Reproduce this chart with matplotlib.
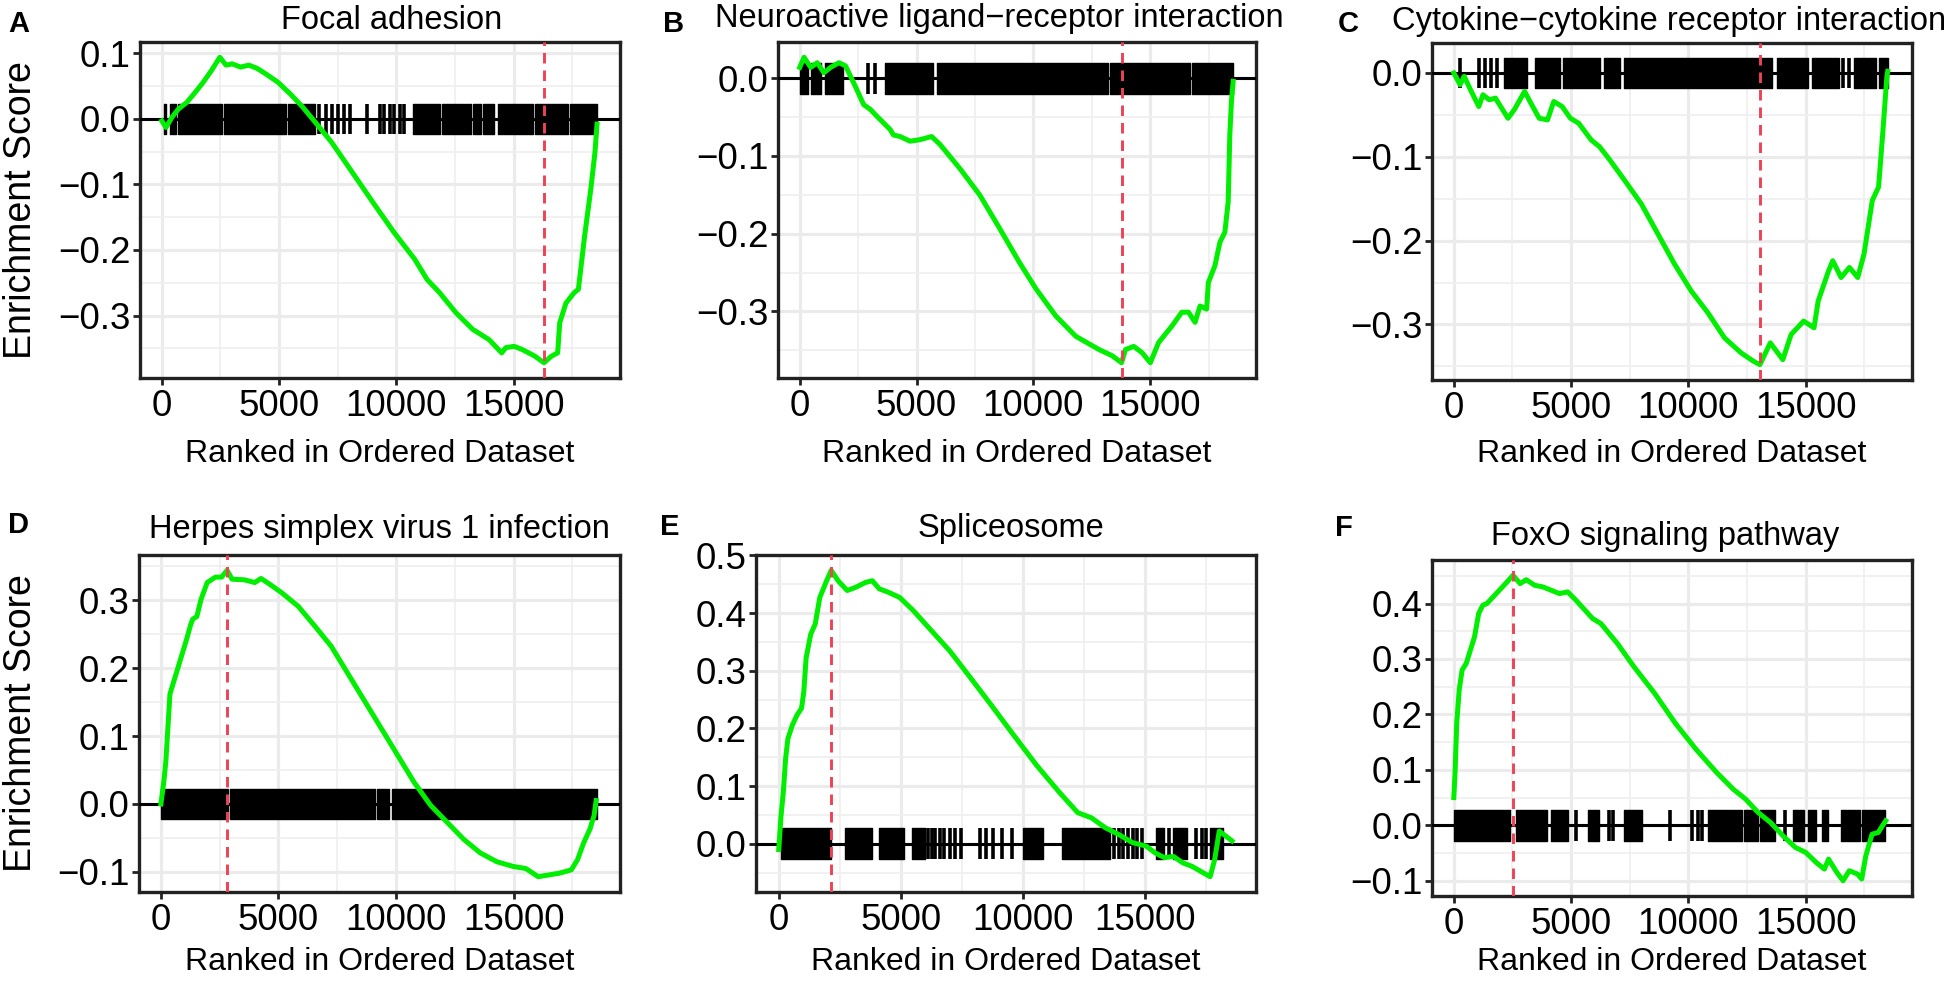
import matplotlib
matplotlib.use("Agg")
import matplotlib.pyplot as plt
from matplotlib.ticker import FixedLocator, FuncFormatter
import numpy as np

# ---------------- data ----------------
titles = ["Focal adhesion", "Neuroactive ligand\u2212receptor interaction",
          "Cytokine\u2212cytokine receptor interaction",
          "Herpes simplex virus 1 infection", "Spliceosome", "FoxO signaling pathway"]
letters = ["A", "B", "C", "D", "E", "F"]

A_rank = [0, 177, 442, 707, 1060, 1413, 1767, 2120, 2473, 2739, 3000, 3357, 3710, 4064, 4417, 4947, 5477,
          6007, 6537, 7244, 8127, 9011, 9894, 10777, 11307, 11837, 12544, 13250, 13957, 14488, 14664, 15017,
          15371, 15901, 16290, 16608, 16873, 16961, 17226, 17580, 17756, 18021, 18286, 18463, 18551]
A_es = [-0.003, -0.013, 0.003, 0.015, 0.025, 0.040, 0.056, 0.074, 0.094, 0.082, 0.084, 0.079, 0.082, 0.077,
        0.069, 0.056, 0.038, 0.018, -0.005, -0.036, -0.082, -0.128, -0.173, -0.214, -0.245, -0.265, -0.296,
        -0.321, -0.337, -0.357, -0.349, -0.347, -0.352, -0.362, -0.372, -0.362, -0.357, -0.311, -0.281,
        -0.265, -0.260, -0.179, -0.107, -0.051, -0.008]
A_peak = 16290
A_blocks = [(90, 180), (350, 620), (710, 2560), (2650, 5300), (5390, 6540), (10690, 11840), (11930, 13160),
            (13250, 13600), (13690, 14140), (14310, 15810), (15900, 17320), (17400, 18560)]
A_lines = [6720, 6980, 7250, 7510, 7780, 8040, 8750, 9280, 9450, 9720, 9900, 10160, 10340]

B_rank = [0, 185, 470, 750, 1035, 1320, 1675, 1957, 2312, 2737, 3021, 3305, 3872, 4014, 4298, 4723, 5149,
          5645, 6000, 6851, 7702, 8553, 9404, 10114, 10965, 11816, 12808, 13375, 13774, 13944, 14297, 14650,
          15007, 15361, 15928, 16354, 16638, 16922, 17135, 17418, 17489, 17773, 17986, 18198, 18340, 18410,
          18480, 18553]
B_es = [0.014, 0.027, 0.014, 0.020, 0.007, 0.014, 0.020, 0.016, -0.006, -0.034, -0.040, -0.049, -0.066,
        -0.073, -0.075, -0.081, -0.079, -0.075, -0.085, -0.116, -0.150, -0.193, -0.237, -0.271, -0.306,
        -0.332, -0.349, -0.357, -0.366, -0.349, -0.345, -0.353, -0.366, -0.340, -0.319, -0.301, -0.301,
        -0.314, -0.293, -0.297, -0.263, -0.241, -0.211, -0.198, -0.159, -0.072, -0.029, -0.004]
B_peak = 13774
B_blocks = [(0, 340), (470, 900), (1100, 1870), (3660, 5700), (5860, 13190), (13300, 16710), (16810, 18550)]
B_lines = [2940, 3230]

C_rank = [0, 266, 444, 710, 1065, 1243, 1509, 1775, 2307, 2574, 3017, 3284, 3639, 3994, 4260, 4615, 4970,
          5325, 5858, 6213, 6656, 7278, 7988, 8698, 9408, 10118, 10828, 11538, 12248, 12780, 13046, 13490,
          14023, 14378, 14910, 15354, 15532, 15975, 16152, 16508, 16862, 17217, 17484, 17839, 18105, 18283,
          18460, 18496]
C_es = [0.0, -0.014, -0.004, -0.020, -0.040, -0.026, -0.032, -0.030, -0.054, -0.044, -0.022, -0.036, -0.054,
        -0.056, -0.034, -0.040, -0.054, -0.060, -0.080, -0.088, -0.104, -0.128, -0.156, -0.192, -0.228,
        -0.260, -0.286, -0.316, -0.334, -0.344, -0.348, -0.322, -0.342, -0.312, -0.296, -0.304, -0.272,
        -0.236, -0.224, -0.244, -0.232, -0.244, -0.216, -0.152, -0.136, -0.072, -0.004, 0.002]
C_peak = 13046
C_blocks = [(2130, 3100), (3460, 4520), (4650, 6210), (6420, 7100), (7240, 13580), (13760, 15090),
            (15260, 16420), (17040, 18010), (18140, 18500)]
C_lines = [266, 1065, 1330, 1600, 1860, 16600, 16860]

D_rank = [0, 123, 211, 299, 387, 563, 739, 915, 1091, 1267, 1355, 1531, 1707, 1971, 2323, 2587, 2816, 3027,
          3555, 3995, 4259, 4611, 5139, 5843, 6547, 7251, 8131, 9011, 9891, 10771, 11475, 12179, 12883,
          13587, 14291, 14995, 15523, 16051, 16403, 16931, 17459, 17723, 17987, 18251, 18427, 18515]
D_es = [0.0, 0.032, 0.062, 0.112, 0.162, 0.182, 0.202, 0.222, 0.242, 0.264, 0.272, 0.276, 0.301, 0.326,
        0.334, 0.334, 0.344, 0.331, 0.330, 0.326, 0.332, 0.324, 0.311, 0.291, 0.262, 0.232, 0.182, 0.132,
        0.082, 0.032, -0.002, -0.027, -0.052, -0.072, -0.085, -0.092, -0.095, -0.107, -0.105, -0.102,
        -0.097, -0.082, -0.057, -0.037, -0.017, 0.005]
D_peak = 2816
D_blocks = [(0, 2850), (2950, 9100), (9200, 9720), (9840, 18550)]
D_lines = []

E_rank = [0, 93, 187, 280, 374, 560, 747, 934, 1027, 1121, 1308, 1494, 1681, 1961, 2148, 2428, 2802, 3176,
          3549, 3829, 4110, 4483, 4950, 5511, 6258, 7005, 7752, 8686, 9620, 10554, 11488, 12235, 12796,
          13356, 13917, 14477, 15037, 15411, 15784, 16158, 16532, 16905, 17279, 17653, 17840, 18026, 18306,
          18549]
E_es = [-0.010, 0.048, 0.089, 0.147, 0.182, 0.206, 0.223, 0.235, 0.264, 0.322, 0.363, 0.381, 0.427, 0.456,
        0.474, 0.456, 0.439, 0.445, 0.453, 0.456, 0.442, 0.436, 0.427, 0.404, 0.369, 0.334, 0.293, 0.241,
        0.188, 0.136, 0.089, 0.054, 0.045, 0.028, 0.016, 0.002, -0.004, -0.016, -0.024, -0.022, -0.033,
        -0.039, -0.048, -0.057, -0.027, 0.022, 0.013, 0.005]
E_peak = 2148
E_blocks = [(93, 2148), (2709, 3829), (4110, 5137), (5473, 5977), (9994, 10834), (11582, 13543),
            (15448, 15747), (16121, 16719), (17653, 18176)]
E_lines = [6108, 6258, 6407, 6594, 6781, 7005, 7229, 7472, 8219, 8499, 8780, 9153, 9527, 13730, 13917,
           14103, 14290, 14477, 14664, 14851, 15971, 17092, 17316, 17503]

F_rank = [0, 53, 124, 229, 353, 530, 706, 883, 1059, 1236, 1412, 1677, 1942, 2206, 2524, 2824, 3089, 3442,
          3795, 4148, 4501, 4854, 5207, 5913, 6266, 6972, 7678, 8560, 9443, 10325, 11208, 11914, 12443,
          12973, 13502, 14032, 14561, 15003, 15444, 15797, 15973, 16326, 16591, 16856, 17209, 17385, 17562,
          17827, 18091, 18268, 18409]
F_es = [0.050, 0.095, 0.184, 0.244, 0.280, 0.292, 0.316, 0.340, 0.382, 0.397, 0.400, 0.412, 0.424, 0.436,
        0.451, 0.436, 0.443, 0.433, 0.430, 0.424, 0.418, 0.421, 0.406, 0.373, 0.364, 0.328, 0.286, 0.238,
        0.184, 0.137, 0.095, 0.065, 0.047, 0.023, 0.005, -0.019, -0.040, -0.049, -0.067, -0.079, -0.061,
        -0.085, -0.100, -0.082, -0.088, -0.097, -0.055, -0.016, -0.013, -0.001, 0.008]
F_peak = 2524
F_blocks = [(0, 2380), (2650, 3970), (4150, 4850), (5740, 6180), (7240, 8030), (10820, 12270),
            (12360, 12970), (13060, 13680), (14470, 14910), (15090, 15440), (15710, 15970), (16520, 17300),
            (17390, 18360)]
F_lines = [5210, 6620, 6800, 9230, 10150, 10410, 10590, 14120]

x_ticks = [0, 5000, 10000, 15000]
x_minor = [2500, 7500, 12500, 17500]

panels = [
    (A_rank, A_es, A_peak, A_blocks, A_lines),
    (B_rank, B_es, B_peak, B_blocks, B_lines),
    (C_rank, C_es, C_peak, C_blocks, C_lines),
    (D_rank, D_es, D_peak, D_blocks, D_lines),
    (E_rank, E_es, E_peak, E_blocks, E_lines),
    (F_rank, F_es, F_peak, F_blocks, F_lines),
]

# ---------------- layout (pixels) ----------------
W, H = 1955, 986
boxes = [(140, 42, 620, 378), (778, 42, 1256, 378), (1432, 43, 1912, 380),
         (139, 555, 620, 892), (756, 555, 1256, 892), (1432, 560, 1912, 896)]
title_cx = [392, 999, 1669, 379, 1011, 1665]
title_base = [29, 27, 30, 538, 537, 545]
letter_pos = [(8, 32), (663, 32), (1338, 32), (8, 533), (660, 535), (1335, 536)]
xlabel_y = [454, 454, 454, 962, 962, 962]

plt.rcParams['font.family'] = ['Liberation Sans', 'DejaVu Sans']

fig = plt.figure(figsize=(W / 100, H / 100), dpi=100)
fig.patch.set_facecolor('white')

def fx(x):
    return x / W

def fy(y):
    return 1 - y / H

def fmt_y(v, pos):
    s = "%.1f" % v
    if s == "-0.0":
        s = "0.0"
    return s.replace("-", "\u2212")

border = '#222222'
for i, (rank, es, peak, blocks, lines) in enumerate(panels):
    l, t, r, b = boxes[i]
    ax = fig.add_axes([fx(l), fy(b), (r - l) / W, (b - t) / H])
    es_arr = np.array(es)
    h = (es_arr.max() - es_arr.min()) / 20.0

    ax.broken_barh([(s, e - s) for s, e in blocks], (-h, 2 * h), facecolors='black',
                   edgecolor='black', linewidth=1.0, zorder=2)
    if lines:
        ax.vlines(lines, -h, h, colors='black', linewidth=2.6, zorder=2)
    ax.axhline(0, color='black', linewidth=2.2, zorder=3)
    ax.plot(rank, es, color='#00EE00', linewidth=3.6, zorder=4, solid_joinstyle='round')
    ax.axvline(peak, color='#EE4256', linewidth=2.1, linestyle=(0, (3.6, 2.4)), zorder=5)

    ax.margins(x=0.05, y=0.05)
    ax.set_xlim(-930, 19530)

    ylo, yhi = ax.get_ylim()
    step = 0.1
    ks = range(int(np.floor(ylo / step)) - 1, int(np.ceil(yhi / step)) + 2)
    yt = [round(k * step, 1) for k in ks if ylo <= k * step <= yhi]
    ym = [round(k * step + 0.05, 2) for k in ks if ylo <= k * step + 0.05 <= yhi]
    ax.yaxis.set_major_locator(FixedLocator(yt))
    ax.yaxis.set_minor_locator(FixedLocator(ym))
    ax.xaxis.set_major_locator(FixedLocator(x_ticks))
    ax.xaxis.set_minor_locator(FixedLocator(x_minor))
    ax.yaxis.set_major_formatter(FuncFormatter(fmt_y))
    ax.xaxis.set_major_formatter(FuncFormatter(lambda v, p: "%d" % v))

    ax.grid(which='major', color='#EBEBEB', linewidth=2.3, zorder=0)
    ax.grid(which='minor', color='#EFEFEF', linewidth=1.2, zorder=0)
    ax.set_axisbelow(True)
    for sp in ax.spines.values():
        sp.set_linewidth(2.4)
        sp.set_color(border)
    ax.tick_params(which='major', direction='out', length=5, width=2.0, color=border,
                   labelsize=26.5, labelcolor='black')
    ax.tick_params(which='minor', length=0)
    ax.tick_params(axis='x', pad=3)
    ax.tick_params(axis='y', pad=2)

    fig.text(fx(title_cx[i]), fy(title_base[i]), titles[i], ha='center', va='baseline', fontsize=23.5)
    lx, ly = letter_pos[i]
    fig.text(fx(lx), fy(ly), letters[i], ha='left', va='baseline', fontsize=21, fontweight='bold')
    cx = (l + r) / 2
    fig.text(fx(cx), fy(xlabel_y[i]), "Ranked in Ordered Dataset", ha='center', va='center', fontsize=23)
    if i in (0, 3):
        fig.text(fx(21), fy((t + b) / 2), "Enrichment Score", ha='center', va='center',
                 rotation=90, fontsize=27)

fig.savefig("out.png", dpi=100, facecolor='white')
